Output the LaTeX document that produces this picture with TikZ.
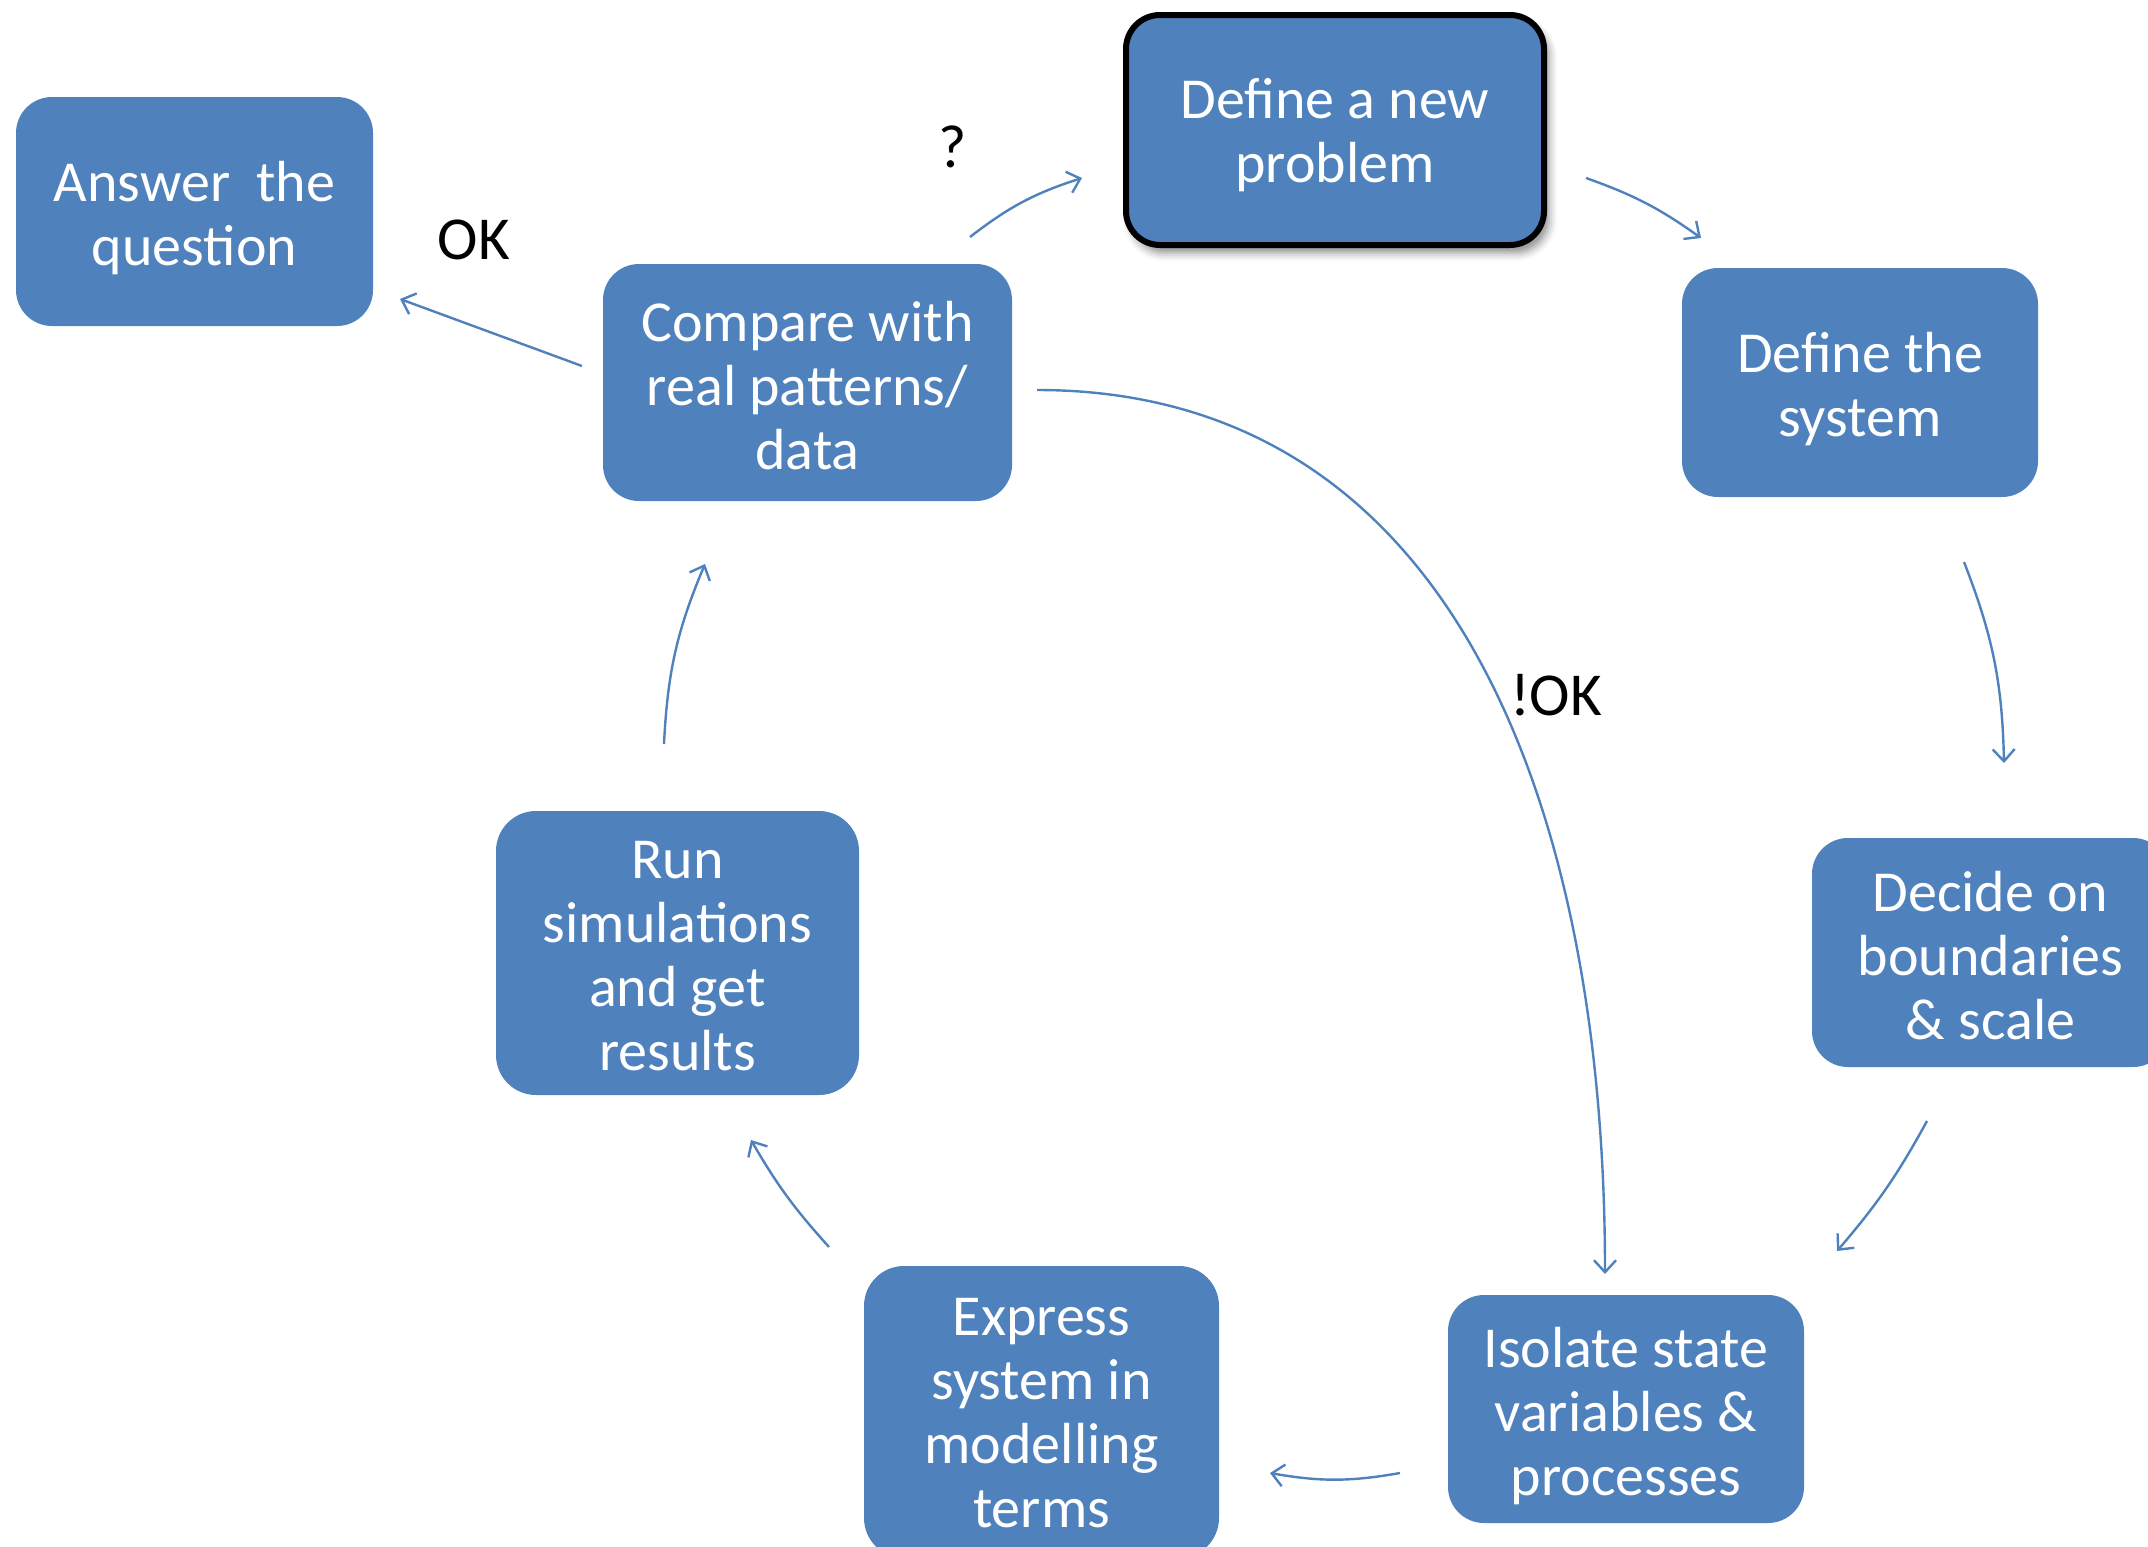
\documentclass[tikz,border=0pt]{standalone}
\usepackage{fontspec}
\setmainfont{Carlito}
\usetikzlibrary{arrows.meta,shadows.blur}
\definecolor{boxblue}{HTML}{4F81BD}
\begin{document}
\begin{tikzpicture}[x=0.5pt,y=-0.5pt,
  stagebox/.style={fill=boxblue,rounded corners=18pt,inner sep=0pt},
  stagetext/.style={text=white,align=center,inner sep=0pt,font=\fontsize{29}{32}\selectfont},
  flow/.style={draw=boxblue,line width=1.2pt,-{Straight Barb[length=6pt,width=11pt]}},
  tag/.style={font=\fontsize{30.5}{34}\selectfont,text=black,inner sep=0pt}]
\useasboundingbox (0,0) rectangle (2148,1547);
\clip (0,0) rectangle (2148,1547);

% process stages
\node[stagebox,minimum width=178.5pt,minimum height=114.5pt,
  label={[stagetext,yshift=-3.5pt]center:{Answer\ \ the\\question}}] (ans) at (194.5,211.5) {};
\node[stagebox,draw=black,line width=3pt,rounded corners=17pt,minimum width=209pt,minimum height=115pt,
  blur shadow={shadow xshift=2.5pt,shadow yshift=-4pt,shadow blur radius=4pt,shadow opacity=45},
  label={[stagetext,yshift=-2.5pt]center:{Define a new\\problem}}] (newp) at (1335,130) {};
\node[stagebox,minimum width=178pt,minimum height=114.5pt,
  label={[stagetext,yshift=-3.5pt]center:{Define the\\system}}] (sys) at (1860,382.5) {};
\node[stagebox,minimum width=178.5pt,minimum height=114.5pt,
  label={[stagetext,yshift=-1.5pt]center:{Decide on\\boundaries\\\& scale}}] (bnd) at (1990.5,952.5) {};
\node[stagebox,minimum width=178pt,minimum height=114pt,
  label={[stagetext,yshift=-3.5pt]center:{Isolate state\\variables \&\\processes}}] (iso) at (1626,1409) {};
\node[stagebox,rounded corners=20pt,minimum width=177.5pt,minimum height=146pt,
  label={[stagetext,yshift=-0.5pt]center:{Express\\system in\\modelling\\terms}}] (exp) at (1041.5,1412) {};
\node[stagebox,rounded corners=20pt,minimum width=181.5pt,minimum height=142pt,
  label={[stagetext,yshift=-1.5pt]center:{Run\\simulations\\and get\\results}}] (run) at (677.5,953) {};
\node[stagebox,minimum width=204.5pt,minimum height=118.5pt,
  label={[stagetext,yshift=-1.5pt]center:{Compare with\\real patterns/\\data}}] (cmp) at (807.5,382.5) {};

% connector end points
\coordinate (cA1) at (582,366);  \coordinate (cA2) at (400,299);
\coordinate (cN1) at (970,237);  \coordinate (cN2) at (1082,178);
\coordinate (nS1) at (1586,178); \coordinate (nS2) at (1701,238);
\coordinate (sB1) at (1964,562); \coordinate (sB2) at (2004,763);
\coordinate (bI1) at (1927,1121);\coordinate (bI2) at (1837,1251);
\coordinate (iE1) at (1400,1473);\coordinate (iE2) at (1270,1473);
\coordinate (eR1) at (829,1247); \coordinate (eR2) at (751,1140);
\coordinate (rC1) at (664,744);  \coordinate (rC2) at (705,564);
\coordinate (cI1) at (1037,390); \coordinate (cI2) at (1605,1274);

% connectors
\draw[flow] (cA1) -- (cA2);
\draw[flow] (cN1) to[bend left=10] (cN2);
\draw[flow] (nS1) to[bend left=8] (nS2);
\draw[flow] (sB1) to[bend left=10] (sB2);
\draw[flow] (bI1) to[bend left=6] (bI2);
\draw[flow] (iE1) to[bend left=10] (iE2);
\draw[flow] (eR1) to[bend left=6] (eR2);
\draw[flow] (rC1) to[bend left=10] (rC2);
\draw[flow] (cI1) .. controls (1450,390) and (1605,800) .. (cI2);

% decision labels
\node[tag] (lok) at (474,240) {OK};
\node[tag] (lq) at (953,147) {?};
\node[tag] (lnok) at (1556,695) {!OK};
\end{tikzpicture}
\end{document}
